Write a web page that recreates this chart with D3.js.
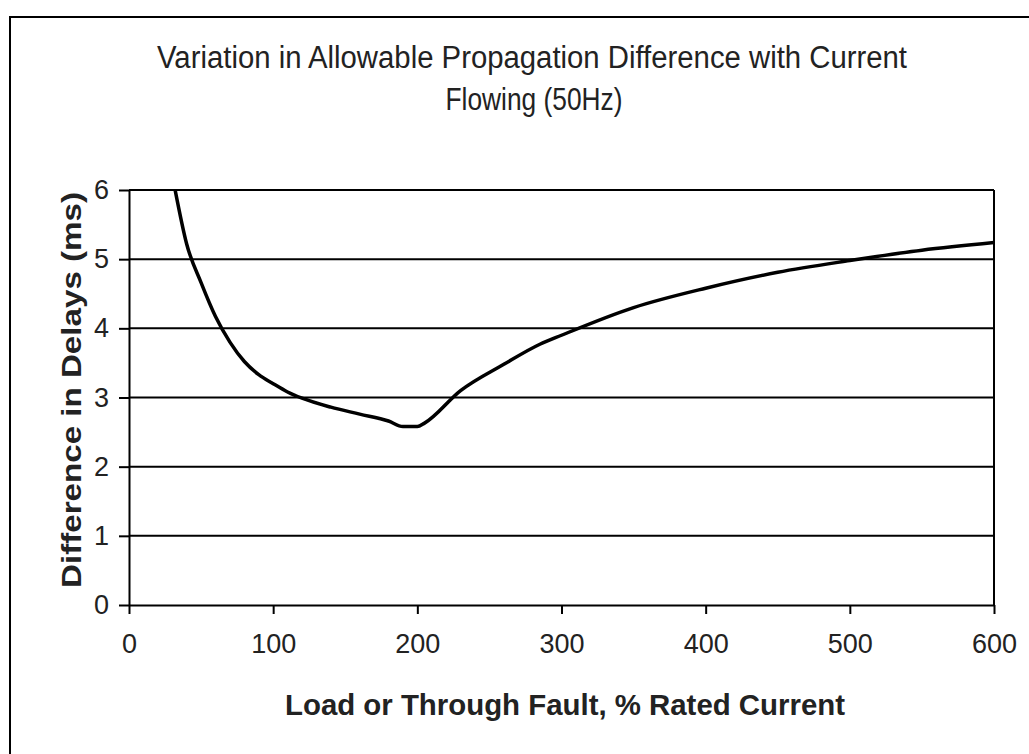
<!DOCTYPE html>
<html>
<head>
<meta charset="utf-8">
<script src="https://cdn.jsdelivr.net/npm/d3@7"></script>
<style>
  body { margin: 0; background: #fff; }
  svg { display: block; font-family: "Liberation Sans", Arial, sans-serif; }
</style>
</head>
<body>
<svg id="chart" width="1029" height="754"></svg>
<script>
// DATA
var loadPct = [32, 40, 50, 60, 70, 80, 90, 100, 110, 120, 140, 160, 180, 190, 200, 205, 230, 260, 285, 300, 350, 400, 450, 500, 550, 600];
var delayMs = [6.0, 5.22, 4.66, 4.17, 3.8, 3.52, 3.33, 3.2, 3.08, 2.99, 2.86, 2.76, 2.66, 2.58, 2.58, 2.63, 3.1, 3.48, 3.77, 3.9, 4.3, 4.58, 4.81, 4.98, 5.13, 5.24];
var xTicks = [0, 100, 200, 300, 400, 500, 600];
var yTicks = [0, 1, 2, 3, 4, 5, 6];
var titleLines = ["Variation in Allowable Propagation Difference with Current", "Flowing (50Hz)"];
var xTitle = "Load or Through Fault, % Rated Current";
var yTitle = "Difference in Delays (ms)";

var svg = d3.select("#chart");
var plot = {left: 129, top: 190, right: 994, bottom: 605};

// outer chart frame, runs off the right and bottom edges
svg.append("rect")
    .attr("x", 10).attr("y", 17)
    .attr("width", 1040).attr("height", 760)
    .attr("fill", "#fff")
    .attr("stroke", "#000")
    .attr("stroke-width", 2);

var x = d3.scaleLinear().domain([0, 600]).range([plot.left, plot.right]);
var y = d3.scaleLinear().domain([0, 6]).range([plot.bottom, plot.top]);

// gridlines
svg.append("g")
    .selectAll("line")
    .data(yTicks.filter(function(d) { return d > 0; }))
    .join("line")
    .attr("x1", plot.left).attr("x2", plot.right)
    .attr("y1", function(d) { return y(d); })
    .attr("y2", function(d) { return y(d); })
    .attr("stroke", "#000")
    .attr("stroke-width", 2);

// right edge of plot area
svg.append("line")
    .attr("x1", plot.right).attr("x2", plot.right)
    .attr("y1", plot.top).attr("y2", plot.bottom)
    .attr("stroke", "#000").attr("stroke-width", 2);

// AXES
var xAxis = svg.append("g")
    .attr("transform", "translate(0," + plot.bottom + ")")
    .call(d3.axisBottom(x).tickValues(xTicks).tickFormat(d3.format("d"))
        .tickSize(9).tickPadding(20).tickSizeOuter(0));

var yAxis = svg.append("g")
    .attr("transform", "translate(" + plot.left + ",0)")
    .call(d3.axisLeft(y).tickValues(yTicks).tickFormat(d3.format("d"))
        .tickSize(10).tickPadding(10).tickSizeOuter(0));

[xAxis, yAxis].forEach(function(ax) {
    ax.select(".domain").attr("stroke", "#000").attr("stroke-width", 2);
    ax.selectAll(".tick line").attr("stroke", "#000").attr("stroke-width", 2);
    ax.selectAll(".tick text")
        .attr("fill", "#222")
        .style("font-family", "'Liberation Sans', Arial, sans-serif")
        .style("font-size", "27px");
});

// CURVE
var line = d3.line()
    .x(function(d, i) { return x(loadPct[i]); })
    .y(function(d) { return y(d); })
    .curve(d3.curveMonotoneX);

svg.append("path")
    .datum(delayMs)
    .attr("d", line)
    .attr("fill", "none")
    .attr("stroke", "#000")
    .attr("stroke-width", 3.5)
    .attr("stroke-linejoin", "round");

// TITLES
svg.append("text")
    .attr("x", 532).attr("y", 68)
    .attr("text-anchor", "middle")
    .attr("textLength", 750).attr("lengthAdjust", "spacingAndGlyphs")
    .style("font-size", "31px").attr("fill", "#222")
    .text(titleLines[0]);

svg.append("text")
    .attr("x", 534).attr("y", 110)
    .attr("text-anchor", "middle")
    .attr("textLength", 177).attr("lengthAdjust", "spacingAndGlyphs")
    .style("font-size", "31px").attr("fill", "#222")
    .text(titleLines[1]);

svg.append("text")
    .attr("x", 565).attr("y", 715)
    .attr("text-anchor", "middle")
    .attr("textLength", 560).attr("lengthAdjust", "spacingAndGlyphs")
    .style("font-size", "29px").style("font-weight", "bold").attr("fill", "#222")
    .text(xTitle);

svg.append("text")
    .attr("transform", "translate(81,390) rotate(-90)")
    .attr("text-anchor", "middle")
    .attr("textLength", 396).attr("lengthAdjust", "spacingAndGlyphs")
    .style("font-size", "28px").style("font-weight", "bold").attr("fill", "#222")
    .text(yTitle);
</script>
</body>
</html>
